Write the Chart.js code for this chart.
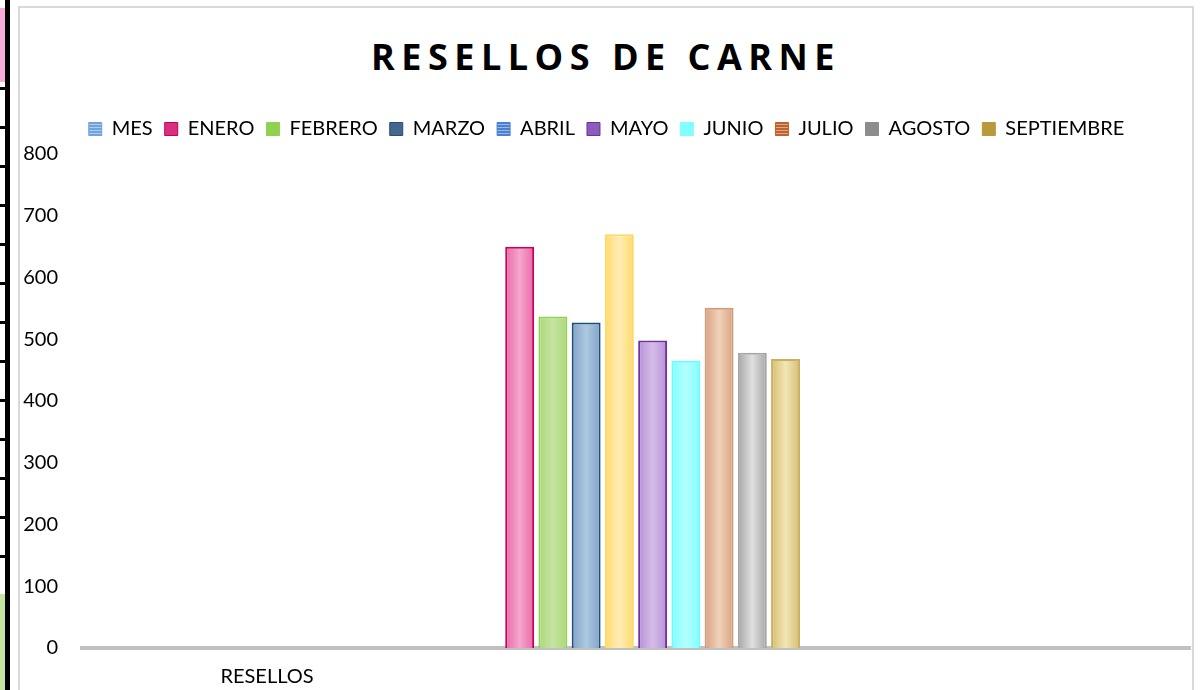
<!DOCTYPE html>
<html>
<head>
<meta charset="utf-8">
<script src="https://cdn.jsdelivr.net/npm/chart.js@4"></script>
<style>
  body { margin: 0; background: #fff; width: 1200px; height: 690px; overflow: hidden; position: relative; }
  .sheet { position: absolute; left: 0; top: 0; width: 10px; height: 690px;
    background: repeating-linear-gradient(to bottom, transparent 0 36px, #000 36px 39px); background-position: 0 12px; }
  .sheet .bar { position: absolute; left: 5px; top: 0; width: 5px; height: 690px; background: #000; }
  .sheet .pink { position: absolute; left: 0; top: 8px; width: 5px; height: 74px; background: #f9acd9; }
  .sheet .green { position: absolute; left: 0; top: 594px; width: 5px; height: 96px; background: #c4e6a0; }
  .box { position: absolute; left: 18px; top: 6px; width: 1172px; height: 720px; border: 2px solid #d9d9d9; }
  .box h1 { position: absolute; left: 0; right: 0; top: 24px; margin: 0; text-align: center;
    font: bold 36px "Open Sans"; letter-spacing: 6.5px; color: #000; }
  canvas { position: absolute; left: 0; top: 0; }
</style>
</head>
<body>
<div class="sheet"><div class="pink"></div><div class="green"></div><div class="bar"></div></div>
<div class="box">
  <h1>RESELLOS DE CARNE</h1>
  <canvas id="chart" width="1172" height="720"></canvas>
</div>
<script>
const categories = ["RESELLOS"];
const seriesNames = ["MES", "ENERO", "FEBRERO", "MARZO", "ABRIL", "MAYO", "JUNIO", "JULIO", "AGOSTO", "SEPTIEMBRE"];
const values = [0, 650, 537, 527, 670, 498, 465, 551, 478, 468];
const yTicks = [0, 100, 200, 300, 400, 500, 600, 700, 800];

// bar look: edge colour, centre highlight, outline
const barEdge = ["#5b9bd5", "#e86aa6", "#a8d878", "#7fa3c8", "#ffd966", "#b48fd6", "#80ffff", "#d9a07c", "#a6a6a6", "#d6bd70"];
const barMid = ["#9dc3e6", "#f6a6ce", "#c6e4a2", "#aec9e1", "#ffedb8", "#d6bde9", "#b3ffff", "#f0d3bd", "#e0e0e0", "#f2e5b6"];
const barLine = ["#5b9bd5", "#c8005c", "#92d050", "#1f4e79", "#ffd966", "#7030a0", "#66ffff", "#d09a78", "#a6a6a6", "#c9b062"];
// legend swatches (they differ from the bars in the original)
const legendFill = ["#6fa3dc", "#d8307c", "#92d050", "#44678f", "#4a80d0", "#8c5cba", "#7fffff", "#c0622c", "#8c8c8c", "#b89a3c"];
const legendLine = ["#6fa3dc", "#c0005a", "#92d050", "#2c4d70", "#4a80d0", "#7030a0", "#7fffff", "#c0622c", "#8c8c8c", "#b89a3c"];
const striped = [true, false, false, false, true, false, false, true, false, false];

function stripes(color) {
  const c = document.createElement("canvas");
  c.width = 4; c.height = 3;
  const g = c.getContext("2d");
  g.fillStyle = color; g.fillRect(0, 0, 4, 3);
  g.fillStyle = "rgba(255,255,255,0.45)"; g.fillRect(0, 2, 4, 1);
  return g.createPattern(c, "repeat");
}

const shading = {
  id: "shading",
  beforeLayout(chart) {
    // a bit more room under the legend row
    const lg = chart.legend;
    if (lg && !lg._tall) {
      const fit = lg.fit.bind(lg);
      lg.fit = function () { fit(); this.height += 5; };
      lg._tall = true;
    }
  },
  beforeDatasetsDraw(chart) {
    const ctx = chart.ctx;
    chart.data.datasets.forEach((ds, i) => {
      chart.getDatasetMeta(i).data.forEach(el => {
        const x0 = el.x - el.width / 2, x1 = el.x + el.width / 2;
        const g = ctx.createLinearGradient(x0, 0, x1, 0);
        g.addColorStop(0, barEdge[i]);
        g.addColorStop(0.5, barMid[i]);
        g.addColorStop(1, barEdge[i]);
        el.options.backgroundColor = g;
      });
    });
  }
};

const ctx = document.getElementById("chart").getContext("2d");
new Chart(ctx, {
  type: "bar",
  data: {
    labels: categories,
    datasets: seriesNames.map((name, i) => ({
      label: name,
      data: [values[i]],
      backgroundColor: barMid[i],
      borderColor: barLine[i],
      borderWidth: 2,
      borderSkipped: "bottom",
      barPercentage: 0.87,
      categoryPercentage: 0.3
    }))
  },
  options: {
    responsive: false,
    animation: false,
    layout: { padding: { top: 99, left: 3, right: 2, bottom: 30 } },
    plugins: {
      tooltip: { enabled: false },
      legend: {
        position: "top",
        labels: {
          color: "#000",
          font: { family: "Lato", size: 20 },
          boxWidth: 13,
          boxHeight: 13,
          padding: 12,
          generateLabels(chart) {
            return chart.data.datasets.map((ds, i) => ({
              text: ds.label,
              fillStyle: striped[i] ? stripes(legendFill[i]) : legendFill[i],
              strokeStyle: legendLine[i],
              lineWidth: 1,
              fontColor: "#000",
              datasetIndex: i
            }));
          }
        }
      }
    },
    scales: {
      x: {
        grid: { display: false },
        border: { color: "#c0c0c0", width: 4 },
        ticks: { color: "#000", font: { family: "Lato", size: 20 }, padding: 9, labelOffset: -369 }
      },
      y: {
        min: 0,
        max: 800,
        grid: { display: false },
        border: { display: false },
        afterBuildTicks(axis) { axis.ticks = yTicks.map(v => ({ value: v })); },
        afterFit(axis) { axis.width = 59; },
        ticks: { color: "#000", font: { family: "Lato", size: 20 }, padding: 16 }
      }
    }
  },
  plugins: [shading]
});
</script>
</body>
</html>
